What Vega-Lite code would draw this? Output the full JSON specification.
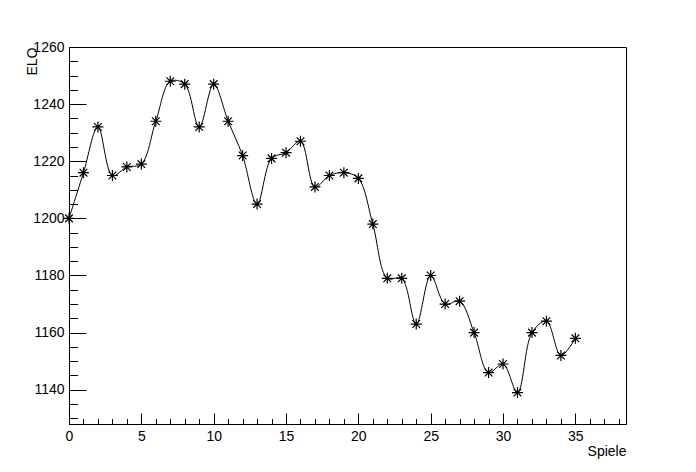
{
  "$schema": "https://vega.github.io/schema/vega-lite/v6.json",
  "width": 557,
  "height": 377,
  "autosize": "none",
  "padding": {"left": 69, "top": 47, "right": 70, "bottom": 48},
  "background": "white",
  "config": {
    "view": {"stroke": "black", "strokeWidth": 1},
    "font": "Liberation Sans",
    "axis": {
      "labelFont": "Liberation Sans",
      "titleFont": "Liberation Sans",
      "labelFontSize": 14,
      "titleFontSize": 14,
      "titleFontWeight": "normal",
      "labelColor": "black",
      "titleColor": "black",
      "tickColor": "black",
      "tickWidth": 1,
      "labelFlush": false,
      "domain": false,
      "grid": false
    }
  },
  "data": {
    "values": [
      {"spiel": 0, "elo": 1200},
      {"spiel": 1, "elo": 1216},
      {"spiel": 2, "elo": 1232},
      {"spiel": 3, "elo": 1215},
      {"spiel": 4, "elo": 1218},
      {"spiel": 5, "elo": 1219},
      {"spiel": 6, "elo": 1234},
      {"spiel": 7, "elo": 1248},
      {"spiel": 8, "elo": 1247},
      {"spiel": 9, "elo": 1232},
      {"spiel": 10, "elo": 1247},
      {"spiel": 11, "elo": 1234},
      {"spiel": 12, "elo": 1222},
      {"spiel": 13, "elo": 1205},
      {"spiel": 14, "elo": 1221},
      {"spiel": 15, "elo": 1223},
      {"spiel": 16, "elo": 1227},
      {"spiel": 17, "elo": 1211},
      {"spiel": 18, "elo": 1215},
      {"spiel": 19, "elo": 1216},
      {"spiel": 20, "elo": 1214},
      {"spiel": 21, "elo": 1198},
      {"spiel": 22, "elo": 1179},
      {"spiel": 23, "elo": 1179},
      {"spiel": 24, "elo": 1163},
      {"spiel": 25, "elo": 1180},
      {"spiel": 26, "elo": 1170},
      {"spiel": 27, "elo": 1171},
      {"spiel": 28, "elo": 1160},
      {"spiel": 29, "elo": 1146},
      {"spiel": 30, "elo": 1149},
      {"spiel": 31, "elo": 1139},
      {"spiel": 32, "elo": 1160},
      {"spiel": 33, "elo": 1164},
      {"spiel": 34, "elo": 1152},
      {"spiel": 35, "elo": 1158}
    ]
  },
  "layer": [
    {
      "mark": {"type": "line", "interpolate": "catmull-rom", "color": "black", "strokeWidth": 1},
      "encoding": {
        "x": {
          "field": "spiel", "type": "quantitative",
          "scale": {"domain": [0, 38.5], "nice": false, "zero": false},
          "axis": {
            "orient": "bottom",
            "values": [0, 5, 10, 15, 20, 25, 30, 35],
            "format": "d",
            "tickSize": -11,
            "labelPadding": 16,
            "domain": true,
            "domainColor": "black",
            "title": "Spiele",
            "titleAlign": "right",
            "titleAnchor": null,
            "titleX": 557,
            "titleY": 31,
            "titleBaseline": "alphabetic"
          }
        },
        "y": {
          "field": "elo", "type": "quantitative",
          "scale": {"domain": [1128, 1260], "nice": false, "zero": false},
          "axis": {
            "orient": "left",
            "values": [1140, 1160, 1180, 1200, 1220, 1240, 1260],
            "format": "d",
            "tickSize": -17,
            "labelPadding": 22,
            "domain": true,
            "domainColor": "black",
            "title": "ELO",
            "titleAngle": -90,
            "titleAlign": "right",
            "titleAnchor": null,
            "titleX": -33,
            "titleY": 0,
            "titleBaseline": "alphabetic"
          }
        }
      }
    },
    {
      "mark": {
        "type": "point",
        "shape": "M-1,0L1,0M0,-1L0,1M-0.7,-0.7L0.7,0.7M-0.7,0.7L0.7,-0.7",
        "filled": false,
        "size": 121,
        "stroke": "black",
        "strokeWidth": 1.2,
        "opacity": 1
      },
      "encoding": {
        "x": {
          "field": "spiel", "type": "quantitative",
          "scale": {"domain": [0, 38.5], "nice": false, "zero": false},
          "axis": {
            "orient": "bottom",
            "values": [1,2,3,4,6,7,8,9,11,12,13,14,16,17,18,19,21,22,23,24,26,27,28,29,31,32,33,34,36,37,38],
            "tickSize": -5.5,
            "labels": false,
            "title": null
          }
        },
        "y": {
          "field": "elo", "type": "quantitative",
          "scale": {"domain": [1128, 1260], "nice": false, "zero": false},
          "axis": {
            "orient": "left",
            "values": [1130,1135,1145,1150,1155,1165,1170,1175,1185,1190,1195,1205,1210,1215,1225,1230,1235,1245,1250,1255],
            "tickSize": -8.5,
            "labels": false,
            "title": null
          }
        }
      }
    }
  ],
  "resolve": {"axis": {"x": "independent", "y": "independent"}}
}
